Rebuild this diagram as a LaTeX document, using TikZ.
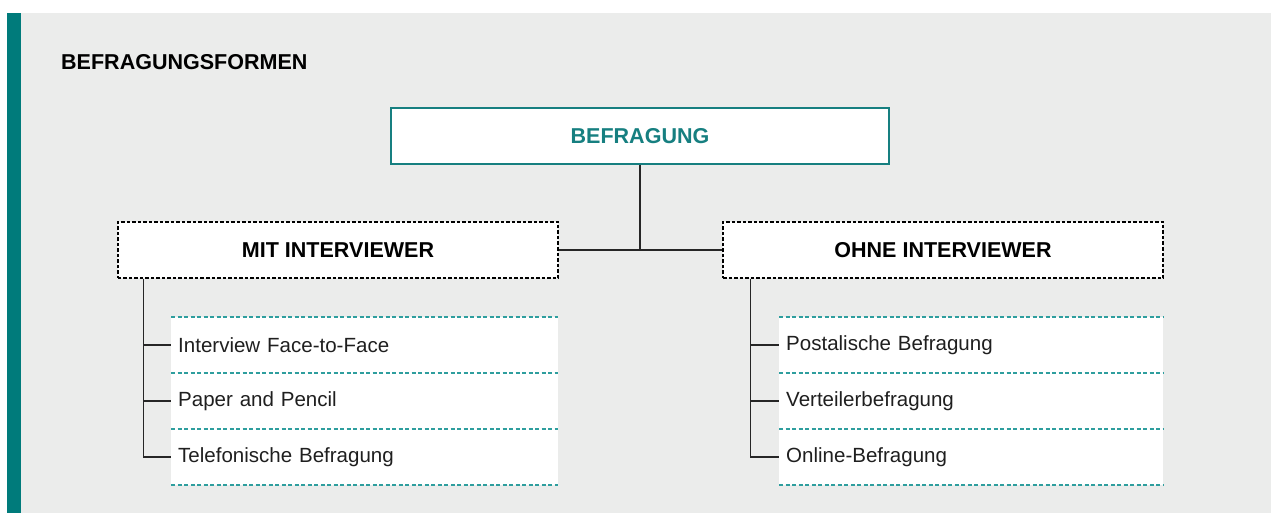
\documentclass[tikz,border=0pt]{standalone}
\usepackage{fontspec}
\setmainfont{Liberation Sans}
\definecolor{bggray}{HTML}{EBECEB}
\definecolor{tealbar}{HTML}{007B7B}
\definecolor{tealtext}{HTML}{167F80}
\definecolor{tealdash}{HTML}{2E9E9E}
\definecolor{linegray}{HTML}{262626}
\begin{document}
\begin{tikzpicture}[x=1bp,y=-1bp,
  bigfont/.style={font=\bfseries\fontsize{21.6}{25}\selectfont},
  rootbox/.style={draw=tealtext, line width=1.4bp, fill=white, minimum width=498bp, minimum height=56bp, inner sep=0pt, text=tealtext, bigfont},
  catbox/.style={draw=black, dash pattern=on 3.5bp off 2bp, line width=1.3bp, fill=white, minimum width=440bp, minimum height=56bp, inner sep=0pt, bigfont},
  itembox/.style={fill=white, inner xsep=7bp, inner ysep=0pt, minimum height=56bp, align=left, text=black!88, font=\fontsize{20.6}{24}\selectfont, anchor=west},
  conn/.style={draw=linegray, line width=1.4bp},
  sep/.style={draw=tealdash, line width=1.6bp, dash pattern=on 4bp off 2.5bp}
]
\useasboundingbox (0,0) rectangle (1271,513);
\fill[white] (0,0) rectangle (1271,513);
\fill[bggray] (7,13) rectangle (1271,513);
\fill[tealbar] (7,13) rectangle (21,513);

\node[anchor=base west, bigfont, inner sep=0pt] (title) at (61,70) {BEFRAGUNGSFORMEN};

\node[rootbox] (root) at (640,136) {BEFRAGUNG};
\node[catbox] (mit) at (338,250) {MIT INTERVIEWER};
\node[catbox] (ohne) at (943,250) {OHNE INTERVIEWER};

\draw[conn] (root.south) -- (root.south |- mit.east);
\draw[conn] (mit.east) -- (ohne.west);

% left items
\node[itembox, text width=373bp] (a1) at (171,345) {Interview Face-to-Face};
\node[itembox, text width=373bp] (a2) at (171,401) {Paper and Pencil};
\node[itembox, text width=373bp] (a3) at (171,457) {Telefonische Befragung};
% right items
\node[itembox, text width=370bp] (b1) at (779,345) {Postalische Befragung};
\node[itembox, text width=370bp] (b2) at (779,401) {Verteilerbefragung};
\node[itembox, text width=370bp] (b3) at (779,457) {Online-Befragung};

\foreach \n in {a,b}{
  \draw[sep] (\n1.north west) -- (\n1.north east);
  \draw[sep] (\n1.south west) -- (\n1.south east);
  \draw[sep] (\n3.north west) -- (\n3.north east);
  \draw[sep] (\n3.south west) -- (\n3.south east);
}

\coordinate (lt) at ([xshift=26bp]mit.south west);
\coordinate (rt) at ([xshift=28bp]ohne.south west);

\draw[conn] (lt) |- (a3.west);
\draw[conn] (lt |- a1.west) -- (a1.west);
\draw[conn] (lt |- a2.west) -- (a2.west);

\draw[conn] (rt) |- (b3.west);
\draw[conn] (rt |- b1.west) -- (b1.west);
\draw[conn] (rt |- b2.west) -- (b2.west);
\end{tikzpicture}
\end{document}
